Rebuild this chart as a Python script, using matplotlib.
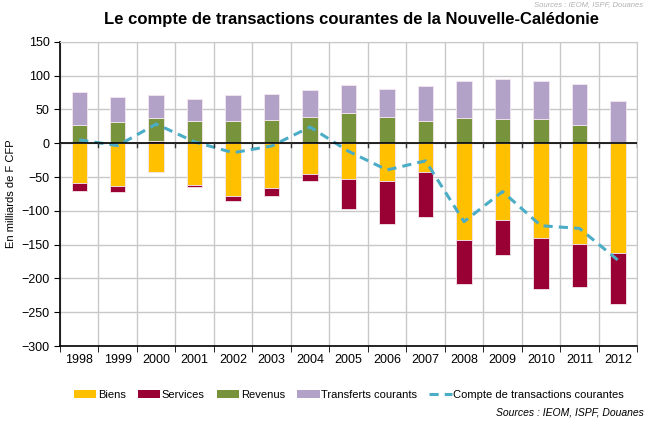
import matplotlib
matplotlib.use('Agg')
import matplotlib.pyplot as plt
import numpy as np
from matplotlib.lines import Line2D
from matplotlib.patches import Patch

years = ['1998', '1999', '2000', '2001', '2002', '2003', '2004', '2005',
         '2006', '2007', '2008', '2009', '2010', '2011', '2012']
biens = [-59, -63, -42, -62, -77.5, -66.5, -45, -53, -56, -43, -143, -113.5, -140.5, -148.5, -162]
services = [-12, -9.5, 4, -2, -8.5, -11, -11, -44, -64, -66.5, -65, -52.5, -74.5, -64.5, -76]
revenus = [27, 32, 34, 32.5, 33.5, 35, 38.5, 45, 39.5, 33.5, 38, 36.5, 35.5, 27.5, 2.5]
transferts = [49, 36, 33, 32.5, 37.5, 38.5, 40.5, 41, 40.5, 50.5, 54, 58.5, 56.5, 59.5, 60]
compte = [5, -3.5, 28.5, 2, -14, -4, 24, -12, -39.5, -26, -116, -71.5, -122, -126, -173]

colors = ['#FFC000', '#990033', '#77933C', '#B3A2C7']
names = ['Biens', 'Services', 'Revenus', 'Transferts courants']
line_color = '#4BACC6'

plt.rcParams['font.family'] = ['Liberation Sans', 'DejaVu Sans']

fig = plt.figure(figsize=(6.5, 4.23), dpi=100)
ax = fig.add_axes([0.0923, 0.182, 0.888, 0.719])

x = np.arange(len(years))
pos_base = np.zeros(len(years))
neg_base = np.zeros(len(years))
# stack positives up and negatives down, like excel does
for vals, col in zip([biens, services, revenus, transferts], colors):
    v = np.array(vals, dtype=float)
    bottom = np.where(v >= 0, pos_base, neg_base)
    ax.bar(x, v, bottom=bottom, width=0.4, color=col, edgecolor='#f4e6ee',
           linewidth=0.6, zorder=3)
    pos_base += np.where(v >= 0, v, 0)
    neg_base += np.where(v < 0, v, 0)

ax.plot(x, compte, color=line_color, linestyle=(0, (3, 2)), linewidth=2.2, zorder=4)

ax.set_xlim(-0.5, len(years) - 0.5)
ax.set_ylim(-300, 150)
ax.set_yticks(np.arange(-300, 151, 50))
ax.set_xticks(x)
ax.set_xticklabels(years)
ax.tick_params(axis='x', length=0, pad=6, labelsize=9)
ax.tick_params(axis='y', length=4, direction='out', labelsize=9, color='black')
ax.set_xticks(np.arange(-0.5, len(years), 1), minor=True)
ax.tick_params(axis='x', which='minor', length=4, direction='out')

ax.grid(True, axis='y', color='#c8c8c8', linewidth=1, zorder=0)
ax.grid(True, axis='x', which='minor', color='#c8c8c8', linewidth=1, zorder=0)
ax.axhline(0, color='black', linewidth=1.2, zorder=5)
for xb in np.arange(-0.5, len(years), 1):
    ax.plot([xb, xb], [0, -5], color='#333333', linewidth=1, zorder=5)

ax.spines['top'].set_color('#c8c8c8')
ax.spines['right'].set_color('#c8c8c8')
ax.spines['left'].set_linewidth(1.2)
ax.spines['bottom'].set_linewidth(1.2)

ax.set_ylabel('En milliards de F CFP', fontsize=8, labelpad=4)

fig.text(0.54, 0.955, 'Le compte de transactions courantes de la Nouvelle-Calédonie',
         ha='center', va='center', fontsize=12, fontweight='bold')

handles = [Patch(facecolor=c, edgecolor='none') for c in colors]
handles.append(Line2D([0], [0], color=line_color, linestyle=(0, (3, 2)), linewidth=2.2))
fig.legend(handles, names + ['Compte de transactions courantes'], loc='center',
           bbox_to_anchor=(0.537, 0.066), ncol=5, frameon=False, fontsize=8,
           handlelength=2.0, handletextpad=0.15, columnspacing=1.1)

fig.text(0.99, 0.012, 'Sources : IEOM, ISPF, Douanes', ha='right', va='bottom',
         fontsize=7.5, style='italic')
fig.text(0.99, 0.997, 'Sources : IEOM, ISPF, Douanes', ha='right', va='top',
         fontsize=5.5, style='italic', color='#b0b0b0')

fig.savefig('out.png', dpi=100)
